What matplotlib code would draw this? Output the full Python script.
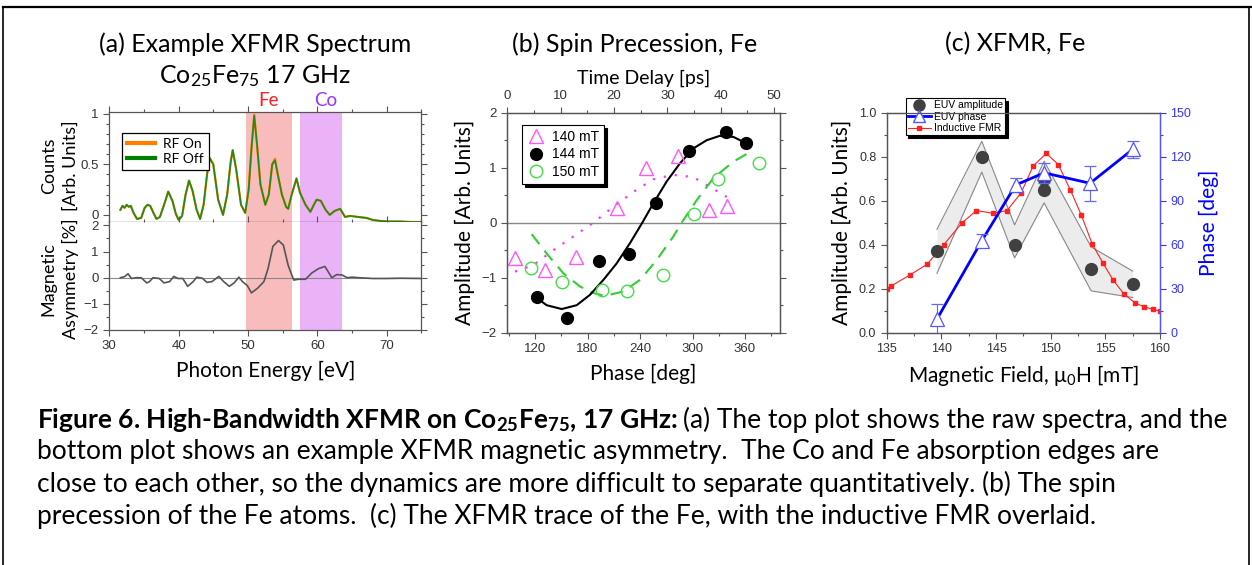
import matplotlib
matplotlib.use("Agg")
import matplotlib.pyplot as plt
from matplotlib.lines import Line2D
from matplotlib.ticker import MultipleLocator, FormatStrFormatter

# ---------------- data ----------------
# (a) raw spectrum (RF on / RF off overlap) and magnetic asymmetry
energy_ev = [31.6, 31.9, 32.2, 32.5, 32.8, 33.1, 33.5, 34.0, 34.6, 35.1, 35.5, 35.9,
             36.3, 36.8, 37.3, 37.9, 38.5, 39.1, 39.6, 40.0, 40.5, 41.0, 41.5, 42.0,
             42.6, 43.1, 43.6, 44.1, 44.5, 45.0, 45.7, 46.4, 47.0, 47.5, 47.8, 48.3,
             49.0, 49.6, 50.1, 50.5, 50.9, 51.3, 51.8, 52.5, 53.0, 53.5, 53.9, 54.3,
             54.9, 55.5, 55.8, 56.3, 57.0, 57.5, 58.3, 59.0, 59.5, 59.9, 60.5, 61.2,
             61.8, 62.5, 63.3, 64.0, 64.7, 65.9, 67.1, 68.0, 69.2, 70.5, 72.0, 73.5, 75.0]
counts_rf_off = [0.05, 0.09, 0.07, 0.10, 0.08, 0.09, 0.02, -0.04, -0.03, 0.07, 0.10, 0.09,
                 0.03, -0.04, -0.02, 0.10, 0.23, 0.14, 0.01, -0.05, -0.01, 0.20, 0.34, 0.24,
                 0.05, -0.04, 0.10, 0.40, 0.56, 0.50, 0.15, 0.00, 0.20, 0.52, 0.64, 0.45,
                 0.10, 0.02, 0.25, 0.65, 0.98, 0.70, 0.30, 0.10, 0.20, 0.50, 0.54, 0.40,
                 0.20, 0.08, 0.06, 0.20, 0.36, 0.22, 0.10, 0.03, 0.10, 0.15, 0.14, 0.05,
                 0.00, 0.04, 0.06, -0.02, -0.01, -0.02, -0.03, -0.05, -0.06, -0.065, -0.065, -0.07, -0.07]
counts_rf_on = [0.05, 0.09, 0.07, 0.10, 0.08, 0.09, 0.02, -0.04, -0.03, 0.07, 0.10, 0.09,
                0.03, -0.04, -0.02, 0.10, 0.23, 0.14, 0.01, -0.05, -0.01, 0.20, 0.34, 0.24,
                0.05, -0.04, 0.10, 0.40, 0.56, 0.50, 0.15, 0.00, 0.20, 0.52, 0.64, 0.45,
                0.10, 0.02, 0.25, 0.65, 0.99, 0.70, 0.30, 0.10, 0.20, 0.50, 0.555, 0.40,
                0.20, 0.08, 0.06, 0.20, 0.36, 0.22, 0.10, 0.03, 0.10, 0.15, 0.14, 0.05,
                0.00, 0.04, 0.06, -0.02, -0.01, -0.02, -0.03, -0.05, -0.06, -0.065, -0.065, -0.07, -0.07]

asym_energy = [31.6, 32.2, 32.7, 33.2, 33.9, 34.6, 35.4, 35.8, 36.3, 37.2, 37.9, 38.7,
               39.3, 39.9, 40.6, 41.3, 42.1, 42.6, 43.4, 44.1, 44.8, 45.8, 46.5, 47.3,
               48.0, 48.7, 49.2, 49.9, 50.5, 51.4, 52.3, 52.9, 53.6, 54.4, 55.1, 55.8,
               56.6, 57.3, 58.3, 59.2, 60.2, 61.1, 62.1, 62.8, 63.6, 64.3, 65.0, 66.0,
               68.0, 70.0, 72.0, 75.0]
asymmetry = [0.0, 0.04, 0.15, -0.03, 0.0, 0.0, -0.2, -0.15, 0.0, -0.03, -0.2, -0.15,
             0.05, -0.03, -0.03, -0.33, -0.15, 0.02, -0.02, -0.18, -0.15, 0.05, -0.15, -0.33,
             -0.2, 0.02, -0.15, -0.3, -0.58, -0.4, -0.15, 0.35, 1.2, 1.42, 1.25, 0.47,
             -0.09, -0.06, -0.06, 0.18, 0.35, 0.43, 0.0, 0.12, 0.1, 0.0, 0.02, 0.0,
             -0.03, -0.03, -0.02, -0.03]

fe_band = (49.7, 56.3)
co_band = (57.5, 63.5)

# (b) spin precession
phase_140 = [97.1, 131.4, 166.9, 213.3, 246.5, 283.8, 319.2, 339.1]
amp_140 = [-0.65, -0.86, -0.62, 0.26, 0.99, 1.21, 0.23, 0.31]
phase_144 = [122.6, 156.9, 193.5, 227.8, 258.3, 296.3, 338.3, 361.1]
amp_144 = [-1.36, -1.74, -0.69, -0.57, 0.35, 1.31, 1.64, 1.45]
phase_150 = [115.1, 150.9, 196.2, 224.8, 266.6, 301.7, 329.5, 376.3]
amp_150 = [-0.82, -1.08, -1.22, -1.24, -0.96, 0.15, 0.79, 1.08]

fit_phase_144 = [123.8, 133.3, 150.5, 167.6, 182.9, 198.1, 213.3, 228.6, 242.6, 255.2,
                 270.5, 285.7, 300.9, 316.2, 331.4, 346.7, 361.9]
fit_amp_144 = [-1.39, -1.50, -1.57, -1.50, -1.31, -1.04, -0.74, -0.37, 0.0, 0.35,
               0.75, 1.08, 1.35, 1.50, 1.58, 1.56, 1.44]
fit_phase_140 = [97.1, 118.1, 140.9, 163.8, 186.7, 209.5, 232.4, 255.2, 278.1, 300.9, 320.0, 339.1]
fit_amp_140 = [-0.89, -0.77, -0.50, -0.25, 0.0, 0.29, 0.56, 0.79, 0.87, 0.83, 0.65, 0.47]
fit_phase_150 = [116.2, 133.3, 152.4, 171.4, 186.7, 200.0, 220.9, 240.0, 259.0, 278.1,
                 287.6, 304.8, 323.8, 346.7, 369.5]
fit_amp_150 = [-0.21, -0.56, -0.92, -1.16, -1.28, -1.33, -1.25, -1.04, -0.68, -0.25,
               0.0, 0.41, 0.81, 1.11, 1.32]

# (c) XFMR trace
euv_field = [139.6, 143.7, 146.7, 149.4, 149.4, 153.7, 157.5]
euv_amp = [0.37, 0.80, 0.40, 0.70, 0.65, 0.29, 0.22]
band_field = [139.6, 143.7, 146.7, 149.4, 153.7, 157.5]
band_upper = [0.47, 0.87, 0.49, 0.78, 0.39, 0.28]
band_lower = [0.27, 0.73, 0.34, 0.59, 0.19, 0.16]
phase_field = [139.6, 143.7, 146.8, 149.4, 153.6, 157.5]
euv_phase = [9.3, 62.7, 100.7, 109.0, 101.9, 125.0]
euv_phase_err = [10, 4.5, 5, 7, 12, 6]
fmr_field = [135.0, 135.4, 137.1, 138.7, 140.2, 141.9, 143.2, 144.7, 146.0, 147.3,
             148.4, 149.6, 150.7, 151.8, 152.8, 153.8, 154.8, 155.7, 156.7, 157.7,
             158.5, 159.4, 160.0]
fmr_amp = [0.20, 0.212, 0.262, 0.311, 0.399, 0.50, 0.555, 0.543, 0.555, 0.636,
           0.758, 0.815, 0.764, 0.649, 0.535, 0.403, 0.315, 0.24, 0.176, 0.136,
           0.118, 0.106, 0.097]

# ---------------- style ----------------
W, H = 1252, 565
plt.rcParams['font.family'] = ['Liberation Sans', 'DejaVu Sans']
plt.rcParams['mathtext.fontset'] = 'custom'
plt.rcParams['mathtext.rm'] = 'Lato'
plt.rcParams['mathtext.it'] = 'Lato:italic'
plt.rcParams['mathtext.bf'] = 'Lato:bold'
LBL = 'Lato'
TICK_C = '#333333'
LABEL_SIZE = 15
TITLE_SIZE = 18

fig = plt.figure(figsize=(W / 100, H / 100), dpi=100)


def box(x0, y0, x1, y1):
    # pixel box (top-left origin) -> figure fraction rect
    return [x0 / W, 1 - y1 / H, (x1 - x0) / W, (y1 - y0) / H]


def style_ax(ax, size=9):
    ax.tick_params(which='both', direction='out', colors='#555555', labelcolor=TICK_C,
                   labelsize=size, width=0.8)
    ax.tick_params(which='major', length=4)
    ax.tick_params(which='minor', length=2)
    for s in ax.spines.values():
        s.set_color('#555555')
        s.set_linewidth(0.9)


# ---------------- (a) ----------------
ax_top = fig.add_axes(box(109.3, 111.7, 421.3, 222))
ax_bot = fig.add_axes(box(109.3, 222, 421.3, 330))
for ax in (ax_top, ax_bot):
    ax.axvspan(*fe_band, color='#f9bcbc', lw=0, zorder=0)
    ax.axvspan(*co_band, color='#ebb3f7', lw=0, zorder=0)
    ax.set_xlim(30, 75)
    ax.xaxis.set_major_locator(MultipleLocator(10))
    ax.xaxis.set_minor_locator(MultipleLocator(5))
    style_ax(ax, 9.5)
    ax.tick_params(top=True, right=True, which='both')

ax_top.plot(energy_ev, counts_rf_on, color='#ff8000', lw=1.6, label='RF On')
ax_top.plot(energy_ev, counts_rf_off, color='#1e8c1e', lw=1.2, label='RF Off')
ax_top.set_ylim(-0.07, 1.02)
ax_top.set_yticks([0, 0.5, 1])
ax_top.yaxis.set_major_formatter(FormatStrFormatter('%g'))
ax_top.yaxis.set_minor_locator(MultipleLocator(0.1))
ax_top.tick_params(labelbottom=False)
ax_top.spines['bottom'].set_color('#222222')
leg = ax_top.legend(handles=[Line2D([], [], color='#ff8000', lw=3, label='RF On'),
                             Line2D([], [], color='#008000', lw=3, label='RF Off')],
                    loc='upper left', bbox_to_anchor=(0.02, 0.87), fancybox=False,
                    edgecolor='black', framealpha=1, handlelength=2.0,
                    prop={'family': LBL, 'size': 10}, borderpad=0.35, labelspacing=0.25,
                    handletextpad=0.6)
leg.get_frame().set_linewidth(0.9)

ax_bot.plot(asym_energy, asymmetry, color='#555555', lw=1.2)
ax_bot.axhline(0, color='#888888', lw=0.8, zorder=1)
ax_bot.set_ylim(-2, 2.13)
ax_bot.yaxis.set_major_locator(MultipleLocator(1))
ax_bot.yaxis.set_minor_locator(MultipleLocator(0.5))
ax_bot.spines['top'].set_visible(False)
ax_bot.set_xlabel('Photon Energy [eV]', family=LBL, fontsize=LABEL_SIZE, labelpad=6)

fig.text(60 / W, 1 - 166 / H, 'Counts\n[Arb. Units]', rotation=90, ha='center', va='center',
         family=LBL, fontsize=13, linespacing=1.4)
fig.text(60 / W, 1 - 279 / H, 'Magnetic\nAsymmetry [%]', rotation=90, ha='center', va='center',
         family=LBL, fontsize=13, linespacing=1.4)
fig.text(268 / W, 1 - 100 / H, 'Fe', color='#ff2020', family=LBL, fontsize=13.5, ha='center', va='center')
fig.text(326 / W, 1 - 100 / H, 'Co', color='#9a33ff', family=LBL, fontsize=13.5, ha='center', va='center')
fig.text(255 / W, 1 - 44 / H, '(a) Example XFMR Spectrum', family=LBL, fontsize=TITLE_SIZE,
         ha='center', va='center')
fig.text(255 / W, 1 - 76 / H, 'Co$_{25}$Fe$_{75}$ 17 GHz', family=LBL, fontsize=TITLE_SIZE,
         ha='center', va='center')

# ---------------- (b) ----------------
axb = fig.add_axes(box(507.3, 112.7, 780, 332.7))
style_ax(axb, 9.5)
axb.axhline(0, color='#888888', lw=1.0, zorder=1)
axb.plot(fit_phase_140, fit_amp_140, color='#ff33ff', lw=1.6, ls=(0, (1, 4)))
axb.plot(fit_phase_150, fit_amp_150, color='#33cc33', lw=1.5, ls=(0, (6, 4)))
axb.plot(fit_phase_144, fit_amp_144, color='black', lw=1.5)
axb.plot(phase_140, amp_140, '^', ms=10, mfc='none', mec='#ff55ff', mew=1.0, label='140 mT')
axb.plot(phase_144, amp_144, 'o', ms=8.5, color='black', label='144 mT')
axb.plot(phase_150, amp_150, 'o', ms=9, mfc='none', mec='#44dd44', mew=1.0, label='150 mT')
axb.set_xlim(88.3, 400)
axb.set_ylim(-2, 2)
axb.set_xticks([120, 180, 240, 300, 360])
axb.xaxis.set_minor_locator(MultipleLocator(30))
axb.yaxis.set_major_locator(MultipleLocator(1))
axb.yaxis.set_minor_locator(MultipleLocator(0.5))
axb.tick_params(right=True, which='both')
axb.set_xlabel('Phase [deg]', family=LBL, fontsize=LABEL_SIZE, labelpad=6)
axb.set_ylabel('Amplitude [Arb. Units]', family=LBL, fontsize=LABEL_SIZE, labelpad=5)
lb = axb.legend(loc='upper left', bbox_to_anchor=(0.03, 0.975), fancybox=False,
                edgecolor='black', framealpha=1, shadow={'color': 'black', 'alpha': 1},
                prop={'size': 10}, handletextpad=0.6, borderpad=0.35, labelspacing=0.25,
                handlelength=1.2)
lb.get_frame().set_linewidth(0.8)

axt = axb.twiny()
axt.set_xlim(0, (400 - 88.3) / 6.1)
axt.xaxis.set_major_locator(MultipleLocator(10))
axt.xaxis.set_minor_locator(MultipleLocator(5))
style_ax(axt, 9.5)
axt.set_xlabel('Time Delay [ps]', family=LBL, fontsize=14, labelpad=5)
fig.text(635 / W, 1 - 44 / H, '(b) Spin Precession, Fe', family=LBL, fontsize=TITLE_SIZE,
         ha='center', va='center')

# ---------------- (c) ----------------
axc = fig.add_axes(box(886.7, 112.7, 1160, 332.7))
style_ax(axc, 9)
axc.fill_between(band_field, band_lower, band_upper, color='#ececec', lw=0, zorder=1)
axc.plot(band_field, band_upper, color='#888888', lw=0.8, zorder=2)
axc.plot(band_field, band_lower, color='#888888', lw=0.8, zorder=2)
axc.plot(fmr_field, fmr_amp, '-s', color='#ff2020', lw=0.8, ms=2.6, zorder=3)
axc.plot(euv_field, euv_amp, 'o', color='#404040', ms=8.5, zorder=4)
axc.set_xlim(135, 160)
axc.set_ylim(0, 1.0)
axc.xaxis.set_major_locator(MultipleLocator(5))
axc.xaxis.set_minor_locator(MultipleLocator(2.5))
axc.yaxis.set_major_locator(MultipleLocator(0.2))
axc.yaxis.set_minor_locator(MultipleLocator(0.1))
axc.yaxis.set_major_formatter(FormatStrFormatter('%.1f'))
axc.set_xlabel('Magnetic Field, μ$_0$H [mT]', family=LBL, fontsize=LABEL_SIZE, labelpad=6)
axc.set_ylabel('Amplitude [Arb. Units]', family=LBL, fontsize=LABEL_SIZE, labelpad=5)

axr = axc.twinx()
axr.plot(phase_field, euv_phase, '-', color='#0000ff', lw=2.0, zorder=2)
axr.errorbar(phase_field, euv_phase, yerr=euv_phase_err, fmt='^', ms=10, mfc='white',
             mec='#5555ff', mew=0.9, ecolor='#6666ff', elinewidth=0.8, capsize=4, zorder=3)
axr.set_ylim(0, 150)
axr.yaxis.set_major_locator(MultipleLocator(30))
axr.yaxis.set_minor_locator(MultipleLocator(15))
style_ax(axr, 9)
axr.tick_params(axis='y', colors='#3333ff', labelcolor='#3333ff')
axr.spines['right'].set_color('#5555ff')
axr.set_ylabel('Phase [deg]', family=LBL, fontsize=LABEL_SIZE, color='#0000ff', labelpad=5)

lc = axc.legend(handles=[Line2D([], [], ls='none', marker='o', color='#404040', ms=8, label='EUV amplitude'),
                         Line2D([], [], color='#0000ff', lw=2, marker='^', ms=8, mfc='white',
                                mec='#5555ff', label='EUV phase'),
                         Line2D([], [], color='#ff2020', lw=0.8, marker='s', ms=2.5, label='Inductive FMR')],
                loc='upper left', bbox_to_anchor=(0.05, 1.09), fancybox=False, edgecolor='black',
                framealpha=1, shadow={'color': 'black', 'alpha': 1}, prop={'size': 7.5},
                borderpad=0.2, labelspacing=0.15, handlelength=2.2, handletextpad=0.3)
lc.get_frame().set_linewidth(0.8)
lc.set_zorder(10)
fig.text(1015 / W, 1 - 44 / H, '(c) XFMR, Fe', family=LBL, fontsize=TITLE_SIZE, ha='center', va='center')

# ---------------- caption + border ----------------
CAP_SIZE = 19
cap_lines = [
    'bottom plot shows an example XFMR magnetic asymmetry.  The Co and Fe absorption edges are',
    'close to each other, so the dynamics are more difficult to separate quantitatively. (b) The spin',
    'precession of the Fe atoms.  (c) The XFMR trace of the Fe, with the inductive FMR overlaid.',
]
cap_y = [420, 452, 484, 516]
bold = fig.text(37 / W, 1 - cap_y[0] / H,
                r'Figure 6. High-Bandwidth XFMR on Co$_{\mathbf{25}}$Fe$_{\mathbf{75}}$, 17 GHz:',
                family=LBL, fontweight='bold', fontsize=CAP_SIZE, va='center')
renderer = fig.canvas.get_renderer()
x_end = bold.get_window_extent(renderer).x1
fig.text((x_end + 5) / W, 1 - cap_y[0] / H, '(a) The top plot shows the raw spectra, and the',
         family=LBL, fontsize=CAP_SIZE, va='center')
for txt, yy in zip(cap_lines, cap_y[1:]):
    fig.text(37 / W, 1 - yy / H, txt, family=LBL, fontsize=CAP_SIZE, va='center')

fig.add_artist(Line2D([3 / W, 1], [1 - 7 / H, 1 - 7 / H], color='black', lw=1.6))
fig.add_artist(Line2D([3 / W, 3 / W], [0, 1 - 7 / H], color='black', lw=1.2))
fig.add_artist(Line2D([1249 / W, 1249 / W], [0, 1 - 7 / H], color='black', lw=1.2))

fig.savefig('out.png', dpi=100)
